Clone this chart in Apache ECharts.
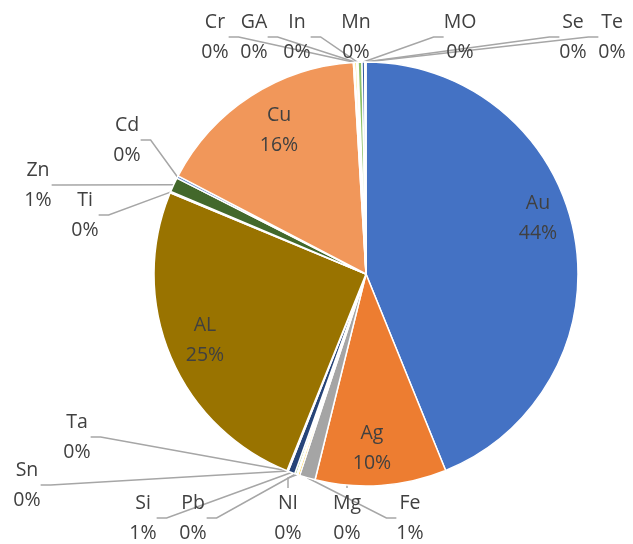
<!DOCTYPE html>
<html>
<head>
<meta charset="utf-8">
<script src="https://cdn.jsdelivr.net/npm/echarts@6/dist/echarts.min.js"></script>
<style>html,body{margin:0;padding:0;background:#fff;}#c{width:633px;height:544px;}</style>
</head>
<body>
<div id="c"></div>
<script>
// ---- data ----
var categories = ['Au','Ag','Fe','Mg','NI','Pb','Si','Sn','Ta','AL','Ti','Zn','Cd','Cu','Cr','GA','In','Mn','MO','Se','Te'];
var values     = [43.9, 10.0, 1.2, 0.15, 0.1, 0.15, 0.52, 0.05, 0.05, 25.2, 0.1, 1.1, 0.2, 16.4, 0.1, 0.15, 0.1, 0.3, 0.2, 0.05, 0.05];
var insideLabels = ['Au','Ag','AL','Cu'];

// ---- styles / label placement (not data) ----
var colors = ['#4472C4','#ED7D31','#A5A5A5','#FFC000','#5B9BD5','#70AD47','#264478','#9E480E','#636363','#997300',
              '#255E91','#43682B','#698ED0','#F1975A','#B7B7B7','#FFCD33','#7CAFDD','#8CC168','#335AA1','#D26012','#848484'];
var labelPos = {
  Au:[538,218], Ag:[372,448], AL:[205,340], Cu:[279,130],
  Cr:[215,37], GA:[254,37], In:[297,37], Mn:[356,37], MO:[460,37], Se:[573,37], Te:[612,37],
  Cd:[127,140], Zn:[38,185], Ti:[85,215],
  Ta:[77,437], Sn:[27,485], Si:[143,518], Pb:[193,518], NI:[288,518], Mg:[347,518], Fe:[410,518]
};

var total = values.reduce(function(a,b){return a+b;},0);
var seriesData = categories.map(function(n,i){
  var inside = insideLabels.indexOf(n) >= 0;
  return {
    name: n, value: values[i],
    itemStyle: {color: colors[i]},
    label: {position: inside ? 'inside' : 'outside'},
    labelLine: {show: !inside}
  };
});

var chart = echarts.init(document.getElementById('c'), null, {renderer:'canvas'});
chart.setOption({
  animation: false,
  series: [{
    type: 'pie',
    center: [366, 274],
    radius: 212,
    startAngle: 90,
    clockwise: true,
    avoidLabelOverlap: false,
    itemStyle: {borderColor:'#fff', borderWidth:1.5},
    label: {
      show: true,
      fontFamily: 'Open Sans',
      fontSize: 19.5,
      color: '#404040',
      lineHeight: 30,
      align: 'center',
      formatter: function(p){ return p.name + '\n' + Math.round(p.value/total*100) + '%'; }
    },
    labelLine: {show:true, lineStyle:{color:'#A6A6A6', width:1.5}, length:10, length2:10},
    labelLayout: function(p){
      var pos = labelPos[categories[p.dataIndex]];
      return {x: pos[0], y: pos[1], align:'center', verticalAlign:'middle'};
    },
    data: seriesData
  }]
});
</script>
</body>
</html>
